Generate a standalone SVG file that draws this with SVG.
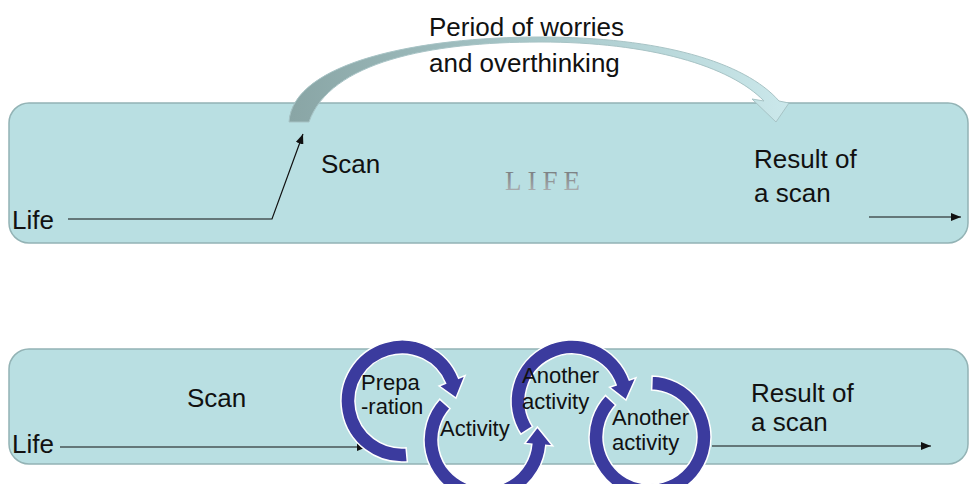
<svg xmlns="http://www.w3.org/2000/svg" width="969" height="484" viewBox="0 0 969 484">
<style>
.panel{fill:#b9dfe2;stroke:#93b3b5;stroke-width:1.5}
.t{font-family:"Liberation Sans",Arial,sans-serif;font-size:26px;fill:#111}
.s{font-family:"Liberation Sans",Arial,sans-serif;font-size:22px;fill:#111}
.ring{fill:#3b3b9e;stroke:#ffffff;stroke-width:1.5;stroke-linejoin:miter}
.ln{fill:none;stroke:#111;stroke-width:1.2;marker-end:url(#ah)}
</style>
<defs>
<marker id="ah" viewBox="0 0 10 8" refX="10" refY="4" markerWidth="10" markerHeight="8" markerUnits="userSpaceOnUse" orient="auto">
<path d="M0,0 L10,4 L0,8 Z" fill="#111"/>
</marker>
<linearGradient id="band" x1="289" y1="0" x2="790" y2="0" gradientUnits="userSpaceOnUse">
<stop offset="0" stop-color="#89a5a5"/>
<stop offset="0.5" stop-color="#a8c8ca"/>
<stop offset="1" stop-color="#cbe8eb"/>
</linearGradient>
<linearGradient id="lifeg" x1="0" y1="0" x2="0" y2="1">
<stop offset="0" stop-color="#6f7376"/>
<stop offset="1" stop-color="#b4b8ba"/>
</linearGradient>
</defs>

<g id="panel-top">
<rect class="panel" x="9" y="103" width="959" height="140" rx="20" ry="20"/>
<text x="505" y="190" font-family="Liberation Serif,Times New Roman,serif" font-size="27" letter-spacing="6" fill="url(#lifeg)">LIFE</text>
</g>
<g id="panel-bottom">
<rect class="panel" x="9" y="349" width="959" height="115" rx="20" ry="20"/>
</g>

<g id="worry-arrow">
<path d="M289,122 C293,62 420,37 540,37 C660,37 745,62 779,101 L789,103 L776,122 L752,99 L764,101 C730,66 650,42 540,42 C430,42 330,62 309,122 Z" fill="url(#band)" stroke="#a7c3c5" stroke-width="1"/>
</g>
<g id="label-worries">
<text class="t" x="429" y="36">Period of worries</text>
<text class="t" x="429" y="72">and overthinking</text>
</g>

<g id="top-labels">
<text class="t" x="12" y="229">Life</text>
<text class="t" x="321" y="173">Scan</text>
<text class="t" x="754" y="168">Result of</text>
<text class="t" x="754" y="202">a scan</text>
</g>

<g id="bottom-labels">
<text class="t" x="12" y="453">Life</text>
<text class="t" x="187" y="407">Scan</text>
<text class="t" x="751" y="402">Result of</text>
<text class="t" x="751" y="431">a scan</text>
</g>

<g id="connectors">
<polyline class="ln" points="68,219 272,219 303,134"/>
<line class="ln" x1="869" y1="217" x2="961" y2="217"/>
<line class="ln" x1="60" y1="447" x2="367" y2="447"/>
<line class="ln" x1="712" y1="446" x2="931" y2="446"/>
</g>

<g id="ring-preparation">
<path class="ring" d="M407.32,461.77 A61,61 0 1 1 458.56,378.15 L465.05,375.53 L455.93,398.17 L439.09,386.02 L445.58,383.39 A47,47 0 1 0 406.10,447.82 Z"/>
<text class="s" x="361" y="390">Prepa</text>
<text class="s" x="361" y="414">-ration</text>
</g>
<g id="ring-activity">
<path class="ring" d="M439.67,399.18 A61,61 0 1 0 545.77,445.32 L552.74,445.93 L537.40,426.94 L524.85,443.49 L531.82,444.10 A47,47 0 1 1 450.07,408.55 Z"/>
<text class="s" x="440" y="436">Activity</text>
</g>
<g id="ring-another-1">
<path class="ring" d="M520.84,434.22 A61,61 0 1 1 629.32,380.14 L635.90,377.74 L625.99,400.06 L609.59,387.32 L616.17,384.93 A47,47 0 1 0 532.58,426.60 Z"/>
<text class="s" x="522" y="383">Another</text>
<text class="s" x="522" y="409">activity</text>
</g>
<g id="ring-another-2">
<path class="ring" d="M652.13,376.04 A61,61 0 1 1 605.39,395.40 L615.63,404.95 A47,47 0 1 0 651.64,390.03 Z"/>
<text class="s" x="612" y="425">Another</text>
<text class="s" x="612" y="450">activity</text>
</g>
</svg>
